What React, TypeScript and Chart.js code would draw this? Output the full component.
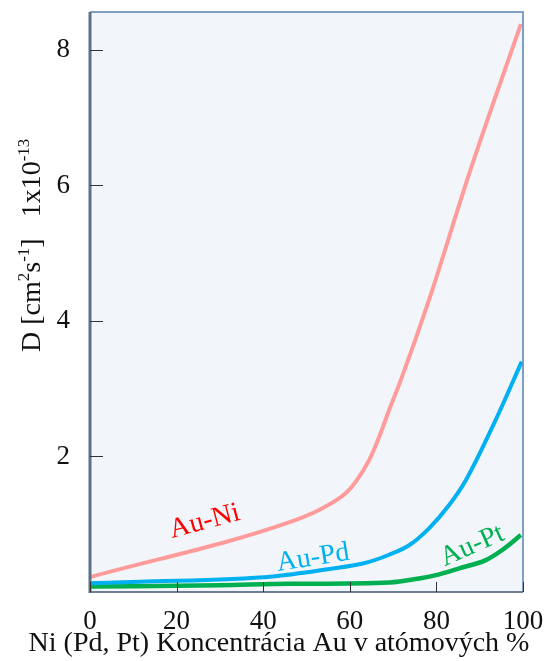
import React, { useEffect, useRef } from "react";
import { Chart, registerables } from "chart.js";

Chart.register(...registerables);

const yTicks = [2, 4, 6, 8];
const xTicks = [0, 20, 40, 60, 80, 100];

const niX = [0, 46.1, 53.8, 59.1, 61.4, 64.5, 66.8, 69.1, 71.8, 78.3, 87.6, 99.5];
const niY = [0.22, 1.03, 1.24, 1.46, 1.63, 1.95, 2.29, 2.69, 3.13, 4.31, 6.18, 8.38];

const pdX = [0, 11.5, 42.2, 55.3, 63, 69.1, 73.7, 78.3, 82.9, 86.8, 93.7, 99.7];
const pdY = [0.13, 0.15, 0.23, 0.34, 0.42, 0.55, 0.69, 0.94, 1.28, 1.65, 2.54, 3.4];

const ptX = [0, 30, 46.1, 69.1, 76, 79.9, 85.3, 91.4, 95.2, 99.5];
const ptY = [0.08, 0.1, 0.12, 0.14, 0.2, 0.25, 0.35, 0.47, 0.62, 0.84];

const seriesNames = ["Au-Ni", "Au-Pd", "Au-Pt"];
const lineColors = ["#ff9b9b", "#00b0f0", "#00b050"];
const labelColors = ["#ff0000", "#00b0f0", "#00b050"];

const xTitle = "Ni (Pd, Pt) Koncentrácia Au v atómových %";
// y title segments: [text, superscript?]
const yTitle: [string, boolean][] = [
  ["D [cm", false],
  ["2", true],
  ["s", false],
  ["-1", true],
  ["]   1x10", false],
  ["-13", true],
];

const SERIF = "'Liberation Serif', 'Times New Roman', serif";

const pts = (xs: number[], ys: number[]) => xs.map((x, i) => ({ x, y: ys[i] }));

const decor = {
  id: "decor",
  beforeDraw(chart: any) {
    const { ctx, chartArea: a } = chart;
    ctx.save();
    ctx.fillStyle = "#f2f6fb";
    ctx.fillRect(a.left, a.top, a.right - a.left, a.bottom - a.top);
    ctx.restore();
  },
  afterDatasetsDraw(chart: any) {
    const { ctx, chartArea: a, scales } = chart;
    const xs = scales.x;
    const ys = scales.y;
    ctx.save();
    // border top/right
    ctx.strokeStyle = "#5a82b4";
    ctx.lineWidth = 1.5;
    ctx.beginPath();
    ctx.moveTo(a.left, a.top);
    ctx.lineTo(a.right, a.top);
    ctx.lineTo(a.right, a.bottom);
    ctx.stroke();
    // bottom axis
    ctx.strokeStyle = "#3f5670";
    ctx.lineWidth = 1.5;
    ctx.beginPath();
    ctx.moveTo(a.left, a.bottom);
    ctx.lineTo(a.right, a.bottom);
    ctx.stroke();
    // left axis
    ctx.strokeStyle = "#5b7089";
    ctx.lineWidth = 3;
    ctx.beginPath();
    ctx.moveTo(a.left, a.top);
    ctx.lineTo(a.left, a.bottom + 1);
    ctx.stroke();
    // inward tick marks
    ctx.strokeStyle = "#333";
    ctx.lineWidth = 1;
    yTicks.forEach((v) => {
      const y = Math.round(ys.getPixelForValue(v)) + 0.5;
      ctx.beginPath();
      ctx.moveTo(a.left, y);
      ctx.lineTo(a.left + 13, y);
      ctx.stroke();
    });
    xTicks.forEach((v) => {
      const x = Math.round(xs.getPixelForValue(v)) + 0.5;
      ctx.beginPath();
      ctx.moveTo(x, a.bottom);
      ctx.lineTo(x, a.bottom - 10);
      ctx.stroke();
    });
    // series labels
    const labels = [
      { x: 26.5, y: 1.04, rot: -15 },
      { x: 51.5, y: 0.5, rot: -9 },
      { x: 88.3, y: 0.68, rot: -24 },
    ];
    ctx.font = `28px ${SERIF}`;
    ctx.textAlign = "center";
    ctx.textBaseline = "middle";
    labels.forEach((l, i) => {
      ctx.save();
      ctx.translate(xs.getPixelForValue(l.x), ys.getPixelForValue(l.y));
      ctx.rotate((l.rot * Math.PI) / 180);
      ctx.fillStyle = labelColors[i];
      ctx.fillText(seriesNames[i], 0, 0);
      ctx.restore();
    });
    // x title
    ctx.fillStyle = "#111";
    ctx.font = `28px ${SERIF}`;
    ctx.textAlign = "center";
    ctx.textBaseline = "alphabetic";
    ctx.fillText(xTitle, 279, 651);
    // y title
    ctx.save();
    ctx.translate(40, 352);
    ctx.rotate(-Math.PI / 2);
    ctx.textAlign = "left";
    let cx = 0;
    yTitle.forEach(([t, sup]) => {
      ctx.font = sup ? `17px ${SERIF}` : `28px ${SERIF}`;
      ctx.fillText(t, cx, sup ? -11 : 0);
      cx += ctx.measureText(t).width;
    });
    ctx.restore();
    ctx.restore();
  },
};

export default function App() {
  const ref = useRef<HTMLCanvasElement>(null);
  useEffect(() => {
    document.body.style.margin = "0";
    const datasets = [pts(niX, niY), pts(pdX, pdY), pts(ptX, ptY)].map((d, i) => ({
      label: seriesNames[i],
      data: d,
      borderColor: lineColors[i],
      borderWidth: i === 2 ? 4.5 : 4,
      pointRadius: 0,
      cubicInterpolationMode: "monotone" as const,
      fill: false,
    }));
    const chart = new Chart(ref.current!, {
      type: "line",
      data: { datasets },
      options: {
        animation: false,
        responsive: false,
        layout: { padding: { top: 12, right: 21, left: 0, bottom: 0 } },
        plugins: { legend: { display: false }, tooltip: { enabled: false } },
        scales: {
          x: {
            type: "linear",
            min: 0,
            max: 100,
            grid: { display: false },
            border: { display: false },
            afterBuildTicks: (s: any) => {
              s.ticks = xTicks.map((v) => ({ value: v }));
            },
            afterFit: (s: any) => {
              s.height = 69;
              s.paddingLeft = 0;
              s.paddingRight = 0;
            },
            ticks: {
              color: "#111",
              font: { family: SERIF, size: 27 },
              padding: 6,
              maxRotation: 0,
              autoSkip: false,
            },
          },
          y: {
            type: "linear",
            min: 0,
            max: 8.56,
            grid: { display: false },
            border: { display: false },
            afterBuildTicks: (s: any) => {
              s.ticks = yTicks.map((v) => ({ value: v }));
            },
            afterFit: (s: any) => {
              s.width = 90;
              s.paddingTop = 0;
              s.paddingBottom = 0;
            },
            ticks: {
              color: "#111",
              font: { family: SERIF, size: 27 },
              padding: 12,
              autoSkip: false,
            },
          },
        },
      },
      plugins: [decor],
    });
    return () => chart.destroy();
  }, []);
  return <canvas ref={ref} width={544} height={661} style={{ display: "block" }} />;
}
